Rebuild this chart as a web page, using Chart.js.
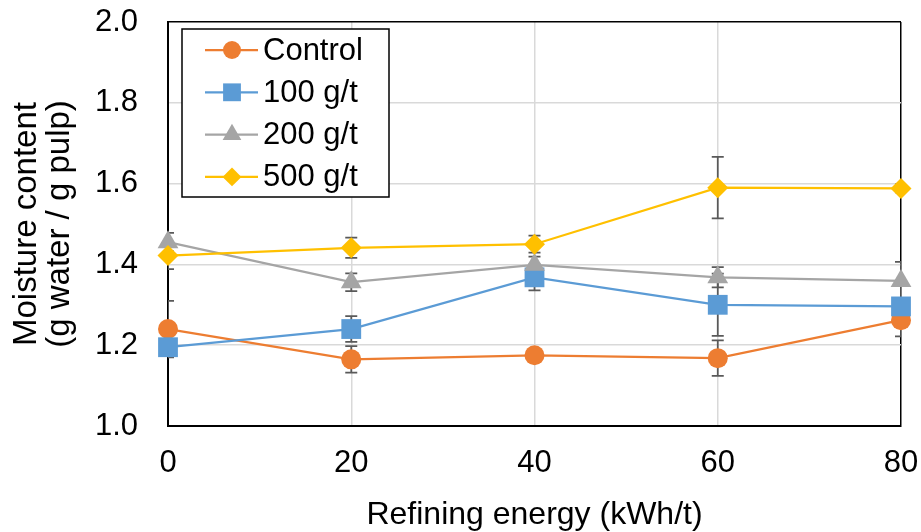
<!DOCTYPE html>
<html>
<head>
<meta charset="utf-8">
<script src="https://cdn.jsdelivr.net/npm/chart.js@4/dist/chart.umd.min.js"></script>
<style>
  body { margin: 0; background: #fff; }
</style>
</head>
<body>
<canvas id="chart" width="921" height="532"></canvas>
<script>
const energy = [0, 20, 40, 60, 80];

const control = [1.24, 1.165, 1.175, 1.168, 1.262];
const controlErr = [0.07, 0.033, 0.01, 0.044, 0.04];
const g100 = [1.195, 1.24, 1.368, 1.30, 1.296];
const g100Err = [0.02, 0.032, 0.032, 0.077, 0.02];
const g200 = [1.455, 1.356, 1.399, 1.368, 1.359];
const g200Err = [0.023, 0.022, 0.02, 0.025, 0.047];
const g500 = [1.422, 1.441, 1.45, 1.59, 1.588];
const g500Err = [0.034, 0.025, 0.021, 0.076, 0.01];

const seriesNames = ['Control', '100 g/t', '200 g/t', '500 g/t'];
const yTicks = [1.0, 1.2, 1.4, 1.6, 1.8, 2.0];

const FONT = '"Liberation Sans", Arial, sans-serif';
const colors = ['#ED7D31', '#5B9BD5', '#A5A5A5', '#FFC000'];
const styles = [
  { pointStyle: 'circle', radius: 10 },
  { pointStyle: 'rect', radius: 14 },
  { pointStyle: 'triangle', radius: 12 },
  { pointStyle: 'rectRot', radius: 10.5 }
];
const values = [control, g100, g200, g500];
const errors = [controlErr, g100Err, g200Err, g500Err];

const datasets = values.map((vals, i) => ({
  label: seriesNames[i],
  data: vals.map((v, j) => ({ x: energy[j], y: v })),
  borderColor: colors[i],
  backgroundColor: colors[i],
  borderWidth: 2.25,
  pointStyle: styles[i].pointStyle,
  pointRadius: styles[i].radius,
  pointHoverRadius: styles[i].radius,
  pointBorderWidth: 0,
  pointBackgroundColor: colors[i],
  tension: 0,
  clip: false,
  order: 3 - i
}));

// error bars, drawn under the markers, clipped to the plot area
const errorBars = {
  id: 'errorBars',
  beforeDatasetsDraw(chart) {
    const { ctx, chartArea, scales } = chart;
    ctx.save();
    ctx.beginPath();
    ctx.rect(chartArea.left, chartArea.top, chartArea.right - chartArea.left, chartArea.bottom - chartArea.top);
    ctx.clip();
    ctx.strokeStyle = '#595959';
    ctx.lineWidth = 1.75;
    values.forEach((vals, i) => {
      vals.forEach((v, j) => {
        const x = scales.x.getPixelForValue(energy[j]);
        const yt = scales.y.getPixelForValue(v + errors[i][j]);
        const yb = scales.y.getPixelForValue(v - errors[i][j]);
        ctx.beginPath();
        ctx.moveTo(x, yt); ctx.lineTo(x, yb);
        ctx.moveTo(x - 6, yt); ctx.lineTo(x + 6, yt);
        ctx.moveTo(x - 6, yb); ctx.lineTo(x + 6, yb);
        ctx.stroke();
      });
    });
    ctx.restore();
  }
};

// boxed legend inside the plot, line through marker like the original
const boxLegend = {
  id: 'boxLegend',
  afterDraw(chart) {
    const ctx = chart.ctx;
    ctx.save();
    ctx.fillStyle = '#fff';
    ctx.fillRect(182, 29, 207, 168);
    ctx.strokeStyle = '#000';
    ctx.lineWidth = 1.5;
    ctx.strokeRect(182, 29, 207, 168);
    seriesNames.forEach((name, i) => {
      const y = 50 + i * 42.3;
      ctx.strokeStyle = colors[i];
      ctx.lineWidth = 2.25;
      ctx.beginPath();
      ctx.moveTo(205, y); ctx.lineTo(258, y);
      ctx.stroke();
      ctx.fillStyle = colors[i];
      Chart.helpers.drawPoint(ctx, {
        pointStyle: styles[i].pointStyle,
        radius: styles[i].radius * 0.9,
        rotation: 0,
        borderWidth: 0
      }, 232, y);
      ctx.fillStyle = '#000';
      ctx.font = '31px ' + FONT;
      ctx.textBaseline = 'middle';
      ctx.textAlign = 'left';
      ctx.fillText(name, 263, y + 1);
    });
    ctx.restore();
  }
};

const gridColor = (edgeVals) => (c) => {
  const v = c.tick ? c.tick.value : null;
  return edgeVals.some(e => Math.abs(v - e) < 1e-6) ? '#000' : '#d9d9d9';
};

new Chart(document.getElementById('chart'), {
  type: 'line',
  data: { datasets },
  options: {
    responsive: false,
    animation: false,
    layout: { padding: { top: 22, right: 20, left: 0, bottom: 0 } },
    plugins: {
      legend: { display: false },
      tooltip: { enabled: false }
    },
    scales: {
      x: {
        type: 'linear',
        min: 0,
        max: 80,
        afterFit: s => { s.height = 106; },
        ticks: {
          stepSize: 20,
          color: '#000',
          padding: 0,
          font: { family: FONT, size: 31, lineHeight: 1 }
        },
        // tick length used only as label offset, marks themselves invisible
        grid: { color: gridColor([0, 80]), lineWidth: 1.5, drawTicks: true, tickLength: 22, tickColor: 'rgba(0,0,0,0)' },
        border: { color: '#000', width: 2 },
        title: {
          display: true,
          text: 'Refining energy (kWh/t)',
          color: '#000',
          padding: { top: 0, bottom: 1 },
          font: { family: FONT, size: 32, lineHeight: 1 }
        }
      },
      y: {
        min: 1,
        max: 2,
        afterFit: s => { s.width = 168; },
        afterBuildTicks: s => { s.ticks = yTicks.map(v => ({ value: v })); },
        ticks: {
          color: '#000',
          padding: 0,
          callback: v => Number(v).toFixed(1),
          font: { family: FONT, size: 31, lineHeight: 1 }
        },
        grid: { color: gridColor([1, 2]), lineWidth: 1.5, drawTicks: true, tickLength: 30, tickColor: 'rgba(0,0,0,0)' },
        border: { color: '#000', width: 2 },
        title: {
          display: true,
          text: ['Moisture content', '(g water / g pulp)'],
          color: '#000',
          padding: { top: 10.5, bottom: 0 },
          font: { family: FONT, size: 33, lineHeight: 1 }
        }
      }
    }
  },
  plugins: [errorBars, boxLegend]
});
</script>
</body>
</html>
